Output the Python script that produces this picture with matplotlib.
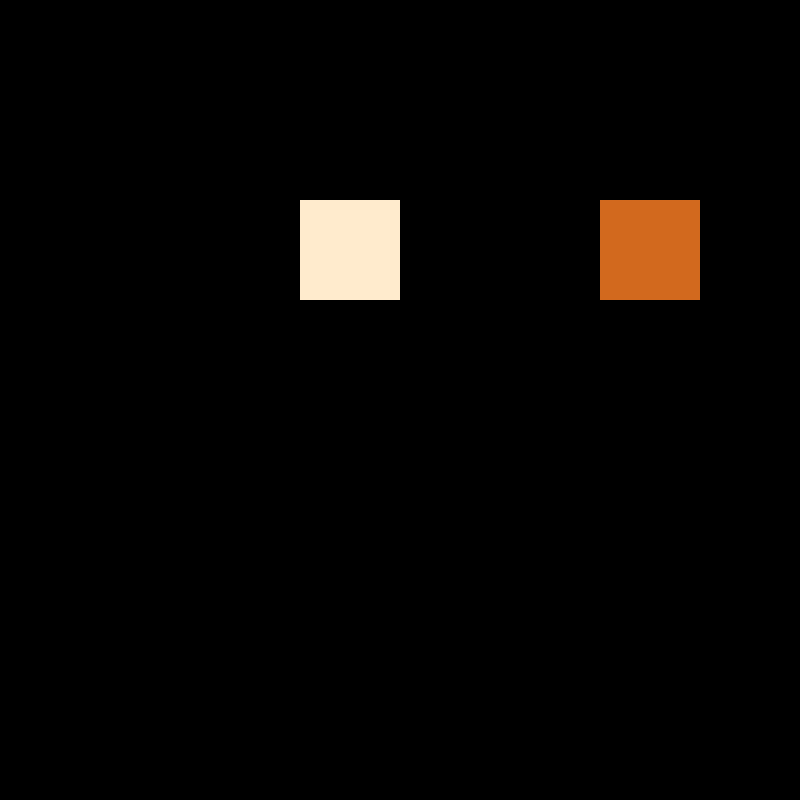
import numpy as np
import matplotlib
matplotlib.use("Agg")
import matplotlib.pyplot as plt
from matplotlib.colors import ListedColormap, BoundaryNorm

# 8x8 grid of cell states: 0 = empty (black), 1 = cream, 2 = orange
rows = 8
cols = 8
filled_rows = [2, 2]
filled_cols = [3, 6]
filled_values = [1, 2]
state_colors = ["#000000", "#FFEBCD", "#D2691E"]

grid = np.zeros((rows, cols), dtype=int)
for r, c, v in zip(filled_rows, filled_cols, filled_values):
    grid[r, c] = v

fig = plt.figure(figsize=(8, 8), dpi=100, facecolor="black")
ax = fig.add_axes([0, 0, 1, 1])
cmap = ListedColormap(state_colors)
norm = BoundaryNorm([-0.5, 0.5, 1.5, 2.5], cmap.N)
ax.imshow(grid, cmap=cmap, norm=norm, interpolation="nearest", aspect="auto")
ax.set_axis_off()
fig.savefig("out.png", dpi=100, facecolor="black")
